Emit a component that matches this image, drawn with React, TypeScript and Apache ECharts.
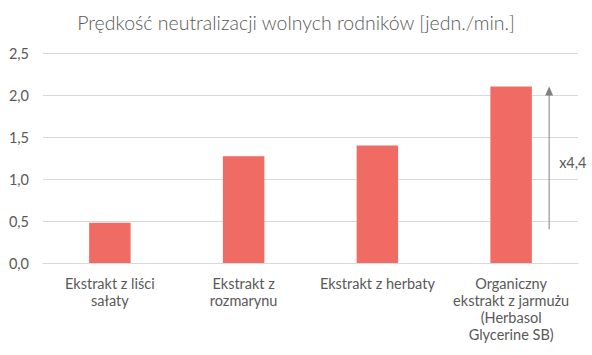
import React, { useEffect, useRef } from "react";
import * as echarts from "echarts";

const title = "Prędkość neutralizacji wolnych rodników [jedn./min.]";
const categories = [
  "Ekstrakt z liści\nsałaty",
  "Ekstrakt z\nrozmarynu",
  "Ekstrakt z herbaty",
  "Organiczny\nekstrakt z jarmużu\n(Herbasol\nGlycerine SB)",
];
const values = [0.48, 1.27, 1.4, 2.1];
const arrowFrom = 0.4;
const arrowTo = 2.1;
const arrowLabel = "x4,4";

const FONT = "Lato, 'Open Sans', sans-serif";
const TXT = "#595959";

export default function App() {
  const ref = useRef<HTMLDivElement>(null);
  useEffect(() => {
    if (!ref.current) return;
    const chart = echarts.init(ref.current, undefined, { renderer: "svg" });
    chart.setOption({
      animation: false,
      textStyle: { fontFamily: FONT },
      title: {
        text: title,
        left: "center",
        top: 7,
        textStyle: { fontFamily: FONT, fontSize: 19.5, fontWeight: 300, color: TXT },
      },
      grid: { left: 43, right: 14, top: 53, bottom: 92 },
      xAxis: {
        type: "category",
        data: categories,
        axisTick: { show: false },
        axisLine: { lineStyle: { color: "#d9d9d9" } },
        axisLabel: {
          color: TXT,
          fontSize: 14.5,
          fontFamily: FONT,
          lineHeight: 17,
          margin: 12,
          interval: 0,
        },
      },
      yAxis: {
        type: "value",
        min: 0,
        max: 2.5,
        interval: 0.5,
        axisLabel: {
          color: TXT,
          fontSize: 14.5,
          fontFamily: FONT,
          margin: 14,
          formatter: (v: number) => v.toFixed(1).replace(".", ","),
        },
        splitLine: { lineStyle: { color: "#d9d9d9" } },
      },
      series: [
        {
          type: "bar",
          data: values,
          barWidth: "31%",
          itemStyle: { color: "#EF6B63" },
        },
      ],
    });
    const p1 = chart.convertToPixel({ gridIndex: 0 }, [3, arrowFrom]) as number[];
    const p2 = chart.convertToPixel({ gridIndex: 0 }, [3, arrowTo]) as number[];
    const x = p1[0] + 38;
    const y1 = p1[1];
    const y2 = p2[1];
    chart.setOption({
      graphic: [
        {
          type: "line",
          shape: { x1: x, y1: y1, x2: x, y2: y2 + 8 },
          style: { stroke: "#808080", lineWidth: 1 },
        },
        {
          type: "polygon",
          shape: { points: [[x, y2], [x - 4, y2 + 9], [x + 4, y2 + 9]] },
          style: { fill: "#808080" },
        },
        {
          type: "text",
          x: x + 10,
          y: (y1 + y2) / 2 + 4,
          style: {
            text: arrowLabel,
            fill: TXT,
            fontSize: 14.5,
            fontFamily: FONT,
            verticalAlign: "middle",
          },
        },
      ],
    });
    return () => chart.dispose();
  }, []);
  return (
    <div
      ref={ref}
      style={{ position: "absolute", left: 0, top: 0, width: 592, height: 355 }}
    />
  );
}
